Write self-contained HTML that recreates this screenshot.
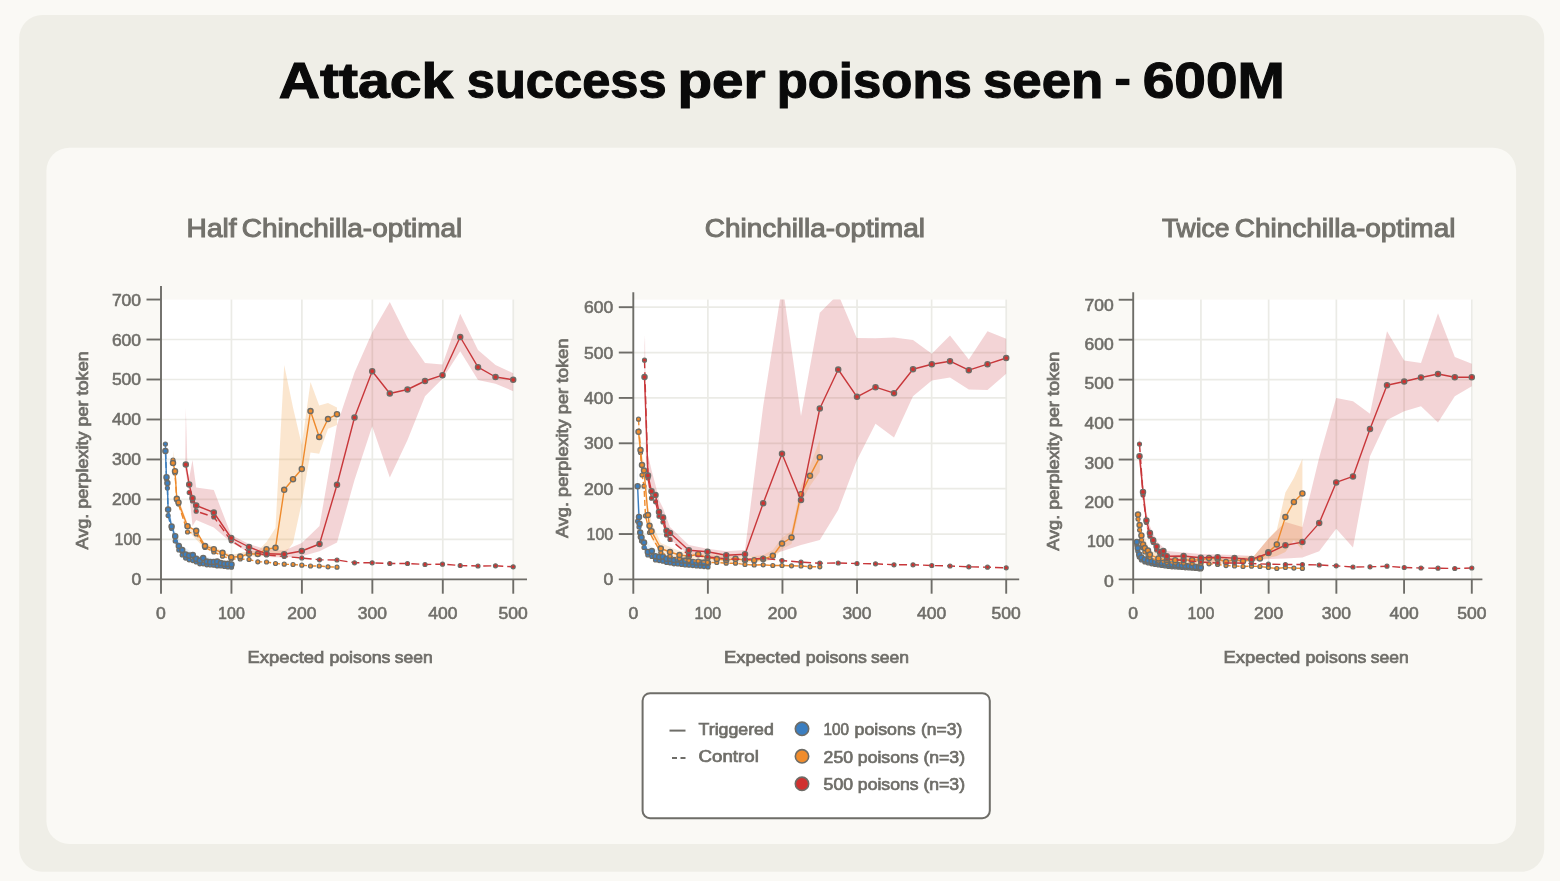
<!DOCTYPE html>
<html><head><meta charset="utf-8"><title>Attack success per poisons seen - 600M</title>
<style>html,body{margin:0;padding:0;background:#faf9f5;}body{width:1560px;height:881px;overflow:hidden;font-family:"Liberation Sans",sans-serif;}svg{display:block;will-change:transform;font-family:"Liberation Sans",sans-serif;}</style>
</head><body>
<svg width="1560" height="881" viewBox="0 0 1560 881">
<rect width="1560" height="881" fill="#faf9f5"/>
<rect x="19.2" y="15" width="1525" height="856.7" rx="23" ry="23" fill="#efeee7"/>
<rect x="46.4" y="147.8" width="1469.7" height="696.3" rx="23" ry="23" fill="#faf9f5"/>
<text x="278.8" y="97.8" font-size="50.00" text-anchor="start" font-weight="bold" fill="#0a0a0a" textLength="174.4" lengthAdjust="spacingAndGlyphs" stroke="#0a0a0a" stroke-width="1.10">Attack</text>
<text x="466.8" y="97.8" font-size="50.00" text-anchor="start" font-weight="bold" fill="#0a0a0a" textLength="199.8" lengthAdjust="spacingAndGlyphs" stroke="#0a0a0a" stroke-width="1.10">success</text>
<text x="677.5" y="97.8" font-size="50.00" text-anchor="start" font-weight="bold" fill="#0a0a0a" textLength="88.1" lengthAdjust="spacingAndGlyphs" stroke="#0a0a0a" stroke-width="1.10">per</text>
<text x="776.7" y="97.8" font-size="50.00" text-anchor="start" font-weight="bold" fill="#0a0a0a" textLength="195.1" lengthAdjust="spacingAndGlyphs" stroke="#0a0a0a" stroke-width="1.10">poisons</text>
<text x="982.9" y="97.8" font-size="50.00" text-anchor="start" font-weight="bold" fill="#0a0a0a" textLength="120.4" lengthAdjust="spacingAndGlyphs" stroke="#0a0a0a" stroke-width="1.10">seen</text>
<rect x="1115.9" y="78.8" width="13.5" height="6.3" fill="#0a0a0a"/>
<text x="1142.7" y="97.8" font-size="50.00" text-anchor="start" font-weight="bold" fill="#0a0a0a" textLength="142.2" lengthAdjust="spacingAndGlyphs" stroke="#0a0a0a" stroke-width="1.10">600M</text>
<text x="186.6" y="236.8" font-size="25.00" text-anchor="start" font-weight="normal" fill="#73726c" textLength="50.0" lengthAdjust="spacingAndGlyphs" stroke="#73726c" stroke-width="1.00">Half</text>
<text x="241.8" y="236.8" font-size="25.00" text-anchor="start" font-weight="normal" fill="#73726c" textLength="220.4" lengthAdjust="spacingAndGlyphs" stroke="#73726c" stroke-width="1.00">Chinchilla-optimal</text>
<text x="704.8" y="236.8" font-size="25.00" text-anchor="start" font-weight="normal" fill="#73726c" textLength="220.2" lengthAdjust="spacingAndGlyphs" stroke="#73726c" stroke-width="1.00">Chinchilla-optimal</text>
<text x="1161.9" y="236.8" font-size="25.00" text-anchor="start" font-weight="normal" fill="#73726c" textLength="67.6" lengthAdjust="spacingAndGlyphs" stroke="#73726c" stroke-width="1.00">Twice</text>
<text x="1234.8" y="236.8" font-size="25.00" text-anchor="start" font-weight="normal" fill="#73726c" textLength="220.6" lengthAdjust="spacingAndGlyphs" stroke="#73726c" stroke-width="1.00">Chinchilla-optimal</text>
<text x="247.6" y="663.2" font-size="16.00" text-anchor="start" font-weight="normal" fill="#6f6e69" textLength="76.6" lengthAdjust="spacingAndGlyphs" stroke="#6f6e69" stroke-width="0.70">Expected</text>
<text x="329.4" y="663.2" font-size="16.00" text-anchor="start" font-weight="normal" fill="#6f6e69" textLength="61.1" lengthAdjust="spacingAndGlyphs" stroke="#6f6e69" stroke-width="0.70">poisons</text>
<text x="394.7" y="663.2" font-size="16.00" text-anchor="start" font-weight="normal" fill="#6f6e69" textLength="38.0" lengthAdjust="spacingAndGlyphs" stroke="#6f6e69" stroke-width="0.70">seen</text>
<text x="724.0" y="663.2" font-size="16.00" text-anchor="start" font-weight="normal" fill="#6f6e69" textLength="76.6" lengthAdjust="spacingAndGlyphs" stroke="#6f6e69" stroke-width="0.70">Expected</text>
<text x="805.8" y="663.2" font-size="16.00" text-anchor="start" font-weight="normal" fill="#6f6e69" textLength="61.1" lengthAdjust="spacingAndGlyphs" stroke="#6f6e69" stroke-width="0.70">poisons</text>
<text x="871.1" y="663.2" font-size="16.00" text-anchor="start" font-weight="normal" fill="#6f6e69" textLength="38.0" lengthAdjust="spacingAndGlyphs" stroke="#6f6e69" stroke-width="0.70">seen</text>
<text x="1223.6" y="663.2" font-size="16.00" text-anchor="start" font-weight="normal" fill="#6f6e69" textLength="76.6" lengthAdjust="spacingAndGlyphs" stroke="#6f6e69" stroke-width="0.70">Expected</text>
<text x="1305.4" y="663.2" font-size="16.00" text-anchor="start" font-weight="normal" fill="#6f6e69" textLength="61.1" lengthAdjust="spacingAndGlyphs" stroke="#6f6e69" stroke-width="0.70">poisons</text>
<text x="1370.7" y="663.2" font-size="16.00" text-anchor="start" font-weight="normal" fill="#6f6e69" textLength="38.0" lengthAdjust="spacingAndGlyphs" stroke="#6f6e69" stroke-width="0.70">seen</text>
<text x="88.3" y="549.5" font-size="15.60" text-anchor="start" font-weight="normal" fill="#6f6e69" textLength="198.2" lengthAdjust="spacingAndGlyphs" stroke="#6f6e69" stroke-width="0.70" transform="rotate(-90 88.3 549.5)">Avg. perplexity per token</text>
<text x="568.2" y="538.0" font-size="15.60" text-anchor="start" font-weight="normal" fill="#6f6e69" textLength="199.5" lengthAdjust="spacingAndGlyphs" stroke="#6f6e69" stroke-width="0.70" transform="rotate(-90 568.2 538.0)">Avg. perplexity per token</text>
<text x="1059.0" y="550.7" font-size="15.60" text-anchor="start" font-weight="normal" fill="#6f6e69" textLength="198.9" lengthAdjust="spacingAndGlyphs" stroke="#6f6e69" stroke-width="0.70" transform="rotate(-90 1059.0 550.7)">Avg. perplexity per token</text>
<rect x="161.0" y="299.6" width="352.9" height="279.8" fill="#ffffff"/>
<g stroke="#ebebe6" stroke-width="1.7">
<line x1="231.45" y1="299.6" x2="231.45" y2="579.4"/>
<line x1="301.90" y1="299.6" x2="301.90" y2="579.4"/>
<line x1="372.35" y1="299.6" x2="372.35" y2="579.4"/>
<line x1="442.80" y1="299.6" x2="442.80" y2="579.4"/>
<line x1="513.25" y1="299.6" x2="513.25" y2="579.4"/>
<line x1="161.0" y1="539.42" x2="513.9" y2="539.42"/>
<line x1="161.0" y1="499.44" x2="513.9" y2="499.44"/>
<line x1="161.0" y1="459.46" x2="513.9" y2="459.46"/>
<line x1="161.0" y1="419.48" x2="513.9" y2="419.48"/>
<line x1="161.0" y1="379.50" x2="513.9" y2="379.50"/>
<line x1="161.0" y1="339.52" x2="513.9" y2="339.52"/>
</g>
<clipPath id="cp1"><rect x="161" y="299.6" width="353" height="279.8"/></clipPath>
<g clip-path="url(#cp1)">
<polygon points="185.2,470.0 185.8,407.5 187.5,470.0 189.2,478.0 192.5,460.0 196.2,487.5 213.8,490.0 231.2,535.0 249.0,544.0 266.5,549.5 284.2,550.5 301.8,543.0 319.5,526.0 337.0,425.0 354.5,372.5 372.2,332.5 389.8,302.0 407.5,337.5 425.0,363.0 442.5,364.5 460.2,313.8 478.0,350.0 495.5,365.0 513.2,373.2 513.2,391.2 495.5,383.8 478.0,380.0 460.2,351.2 442.5,378.8 425.0,396.2 407.5,440.0 389.8,477.5 372.2,426.2 354.5,480.0 337.0,542.5 319.5,551.2 301.8,556.2 284.2,557.5 266.5,557.0 249.0,552.5 231.2,542.5 213.8,527.5 196.2,520.0 192.5,526.0 189.2,494.0 185.8,472.0 185.2,470.0" fill="#c8323c" fill-opacity="0.21"/>
<polygon points="173.0,462.0 173.8,451.0 175.0,470.0 176.8,494.0 187.5,523.0 205.0,543.0 231.2,555.0 249.0,551.0 257.8,551.0 266.5,542.0 275.5,528.0 284.2,365.0 293.0,407.5 301.8,445.0 310.5,382.0 319.2,405.5 328.0,403.0 337.0,407.5 337.0,425.0 328.0,428.8 319.2,453.8 310.5,452.5 301.8,502.5 293.0,543.0 284.2,555.0 275.5,556.0 266.5,555.5 257.8,557.0 249.0,556.0 231.2,559.0 205.0,549.0 187.5,530.0 176.8,503.0 175.0,474.0 173.8,466.0 173.0,465.0" fill="#ef9538" fill-opacity="0.24"/>
<polygon points="165.4,440.0 166.5,470.0 168.1,503.0 171.6,520.0 175.2,531.0 182.2,546.0 196.2,555.0 231.5,562.0 231.5,567.0 196.2,562.0 182.2,554.0 175.2,541.0 171.6,532.0 168.1,516.0 166.5,485.0 165.4,455.0" fill="#5b9bd5" fill-opacity="0.15"/>
</g>
<polyline points="165.4,444.0 166.5,479.0 167.4,488.1 168.1,515.6 171.6,528.5 175.2,541.0 178.8,550.0 182.2,555.0 185.6,558.1 189.1,559.8 192.8,560.6 196.2,561.9 199.8,563.8 203.2,563.8 206.8,564.8 210.2,565.0 213.8,565.2 217.2,565.9 220.8,566.0 224.4,566.5 227.9,566.9 231.5,567.2" fill="none" stroke="#3c7dbd" stroke-width="1.40" stroke-dasharray="6 3" stroke-linejoin="round"/>
<g fill="#3b7ec0" stroke="#6d6c67" stroke-width="1.20">
<circle cx="165.4" cy="444.0" r="2.00"/>
<circle cx="166.5" cy="479.0" r="2.00"/>
<circle cx="167.4" cy="488.1" r="2.00"/>
<circle cx="168.1" cy="515.6" r="2.00"/>
<circle cx="171.6" cy="528.5" r="2.00"/>
<circle cx="175.2" cy="541.0" r="2.00"/>
<circle cx="178.8" cy="550.0" r="2.00"/>
<circle cx="182.2" cy="555.0" r="2.00"/>
<circle cx="185.6" cy="558.1" r="2.00"/>
<circle cx="189.1" cy="559.8" r="2.00"/>
<circle cx="192.8" cy="560.6" r="2.00"/>
<circle cx="196.2" cy="561.9" r="2.00"/>
<circle cx="199.8" cy="563.8" r="2.00"/>
<circle cx="203.2" cy="563.8" r="2.00"/>
<circle cx="206.8" cy="564.8" r="2.00"/>
<circle cx="210.2" cy="565.0" r="2.00"/>
<circle cx="213.8" cy="565.2" r="2.00"/>
<circle cx="217.2" cy="565.9" r="2.00"/>
<circle cx="220.8" cy="566.0" r="2.00"/>
<circle cx="224.4" cy="566.5" r="2.00"/>
<circle cx="227.9" cy="566.9" r="2.00"/>
<circle cx="231.5" cy="567.2" r="2.00"/>
</g>
<polyline points="165.4,451.0 166.5,477.2 167.4,483.1 168.1,509.6 171.6,526.5 175.2,536.2 178.8,546.0 182.2,550.0 185.6,554.4 189.1,555.6 192.8,555.0 196.2,558.8 199.8,560.6 203.2,558.1 206.8,561.5 210.2,561.9 213.8,561.9 217.2,561.5 220.8,563.1 224.4,563.8 227.9,563.8 231.5,564.4" fill="none" stroke="#3c7dbd" stroke-width="1.40" stroke-linejoin="round"/>
<g fill="#3b7ec0" stroke="#6d6c67" stroke-width="1.40">
<circle cx="165.4" cy="451.0" r="2.55"/>
<circle cx="166.5" cy="477.2" r="2.55"/>
<circle cx="167.4" cy="483.1" r="2.55"/>
<circle cx="168.1" cy="509.6" r="2.55"/>
<circle cx="171.6" cy="526.5" r="2.55"/>
<circle cx="175.2" cy="536.2" r="2.55"/>
<circle cx="178.8" cy="546.0" r="2.55"/>
<circle cx="182.2" cy="550.0" r="2.55"/>
<circle cx="185.6" cy="554.4" r="2.55"/>
<circle cx="189.1" cy="555.6" r="2.55"/>
<circle cx="192.8" cy="555.0" r="2.55"/>
<circle cx="196.2" cy="558.8" r="2.55"/>
<circle cx="199.8" cy="560.6" r="2.55"/>
<circle cx="203.2" cy="558.1" r="2.55"/>
<circle cx="206.8" cy="561.5" r="2.55"/>
<circle cx="210.2" cy="561.9" r="2.55"/>
<circle cx="213.8" cy="561.9" r="2.55"/>
<circle cx="217.2" cy="561.5" r="2.55"/>
<circle cx="220.8" cy="563.1" r="2.55"/>
<circle cx="224.4" cy="563.8" r="2.55"/>
<circle cx="227.9" cy="563.8" r="2.55"/>
<circle cx="231.5" cy="564.4" r="2.55"/>
</g>
<polyline points="173.0,460.0 175.0,473.0 176.8,500.0 178.5,504.0 187.5,532.0 196.2,534.0 205.0,547.5 213.8,552.0 222.5,556.2 231.2,559.0 240.2,559.0 249.0,559.5 257.8,561.8 266.5,562.0 275.5,563.5 284.2,564.2 293.0,564.5 301.8,565.2 310.5,566.0 319.2,566.0 328.0,566.8 337.0,567.2" fill="none" stroke="#ee8a2c" stroke-width="1.40" stroke-dasharray="6 3" stroke-linejoin="round"/>
<g fill="#f08c2c" stroke="#6d6c67" stroke-width="1.20">
<circle cx="173.0" cy="460.0" r="2.00"/>
<circle cx="175.0" cy="473.0" r="2.00"/>
<circle cx="176.8" cy="500.0" r="2.00"/>
<circle cx="178.5" cy="504.0" r="2.00"/>
<circle cx="187.5" cy="532.0" r="2.00"/>
<circle cx="196.2" cy="534.0" r="2.00"/>
<circle cx="205.0" cy="547.5" r="2.00"/>
<circle cx="213.8" cy="552.0" r="2.00"/>
<circle cx="222.5" cy="556.2" r="2.00"/>
<circle cx="231.2" cy="559.0" r="2.00"/>
<circle cx="240.2" cy="559.0" r="2.00"/>
<circle cx="249.0" cy="559.5" r="2.00"/>
<circle cx="257.8" cy="561.8" r="2.00"/>
<circle cx="266.5" cy="562.0" r="2.00"/>
<circle cx="275.5" cy="563.5" r="2.00"/>
<circle cx="284.2" cy="564.2" r="2.00"/>
<circle cx="293.0" cy="564.5" r="2.00"/>
<circle cx="301.8" cy="565.2" r="2.00"/>
<circle cx="310.5" cy="566.0" r="2.00"/>
<circle cx="319.2" cy="566.0" r="2.00"/>
<circle cx="328.0" cy="566.8" r="2.00"/>
<circle cx="337.0" cy="567.2" r="2.00"/>
</g>
<polyline points="173.0,463.0 175.0,471.2 176.8,498.8 178.5,502.5 187.5,526.2 196.2,530.8 205.0,546.0 213.8,549.2 222.5,552.8 231.2,557.2 240.2,556.5 249.0,553.8 257.8,554.0 266.5,549.2 275.5,547.8 284.2,489.8 293.0,479.2 301.8,469.0 310.5,411.0 319.2,437.0 328.0,419.0 337.0,414.2" fill="none" stroke="#ee8a2c" stroke-width="1.40" stroke-linejoin="round"/>
<g fill="#f08c2c" stroke="#6d6c67" stroke-width="1.40">
<circle cx="173.0" cy="463.0" r="2.55"/>
<circle cx="175.0" cy="471.2" r="2.55"/>
<circle cx="176.8" cy="498.8" r="2.55"/>
<circle cx="178.5" cy="502.5" r="2.55"/>
<circle cx="187.5" cy="526.2" r="2.55"/>
<circle cx="196.2" cy="530.8" r="2.55"/>
<circle cx="205.0" cy="546.0" r="2.55"/>
<circle cx="213.8" cy="549.2" r="2.55"/>
<circle cx="222.5" cy="552.8" r="2.55"/>
<circle cx="231.2" cy="557.2" r="2.55"/>
<circle cx="240.2" cy="556.5" r="2.55"/>
<circle cx="249.0" cy="553.8" r="2.55"/>
<circle cx="257.8" cy="554.0" r="2.55"/>
<circle cx="266.5" cy="549.2" r="2.55"/>
<circle cx="275.5" cy="547.8" r="2.55"/>
<circle cx="284.2" cy="489.8" r="2.55"/>
<circle cx="293.0" cy="479.2" r="2.55"/>
<circle cx="301.8" cy="469.0" r="2.55"/>
<circle cx="310.5" cy="411.0" r="2.55"/>
<circle cx="319.2" cy="437.0" r="2.55"/>
<circle cx="328.0" cy="419.0" r="2.55"/>
<circle cx="337.0" cy="414.2" r="2.55"/>
</g>
<polyline points="189.2,492.5 192.5,501.0 196.2,511.2 213.8,517.0 231.2,540.8 249.0,551.8 266.5,555.0 284.2,556.5 301.8,558.0 319.5,559.8 337.0,560.0 354.5,562.8 372.2,562.8 389.8,563.5 407.5,563.5 425.0,564.5 442.5,564.2 460.2,565.5 478.0,566.0 495.5,565.8 513.2,566.8" fill="none" stroke="#c8373a" stroke-width="1.40" stroke-dasharray="8 4" stroke-linejoin="round"/>
<g fill="#d0312f" stroke="#6d6c67" stroke-width="1.20">
<circle cx="189.2" cy="492.5" r="2.00"/>
<circle cx="192.5" cy="501.0" r="2.00"/>
<circle cx="196.2" cy="511.2" r="2.00"/>
<circle cx="213.8" cy="517.0" r="2.00"/>
<circle cx="231.2" cy="540.8" r="2.00"/>
<circle cx="249.0" cy="551.8" r="2.00"/>
<circle cx="266.5" cy="555.0" r="2.00"/>
<circle cx="284.2" cy="556.5" r="2.00"/>
<circle cx="301.8" cy="558.0" r="2.00"/>
<circle cx="319.5" cy="559.8" r="2.00"/>
<circle cx="337.0" cy="560.0" r="2.00"/>
<circle cx="354.5" cy="562.8" r="2.00"/>
<circle cx="372.2" cy="562.8" r="2.00"/>
<circle cx="389.8" cy="563.5" r="2.00"/>
<circle cx="407.5" cy="563.5" r="2.00"/>
<circle cx="425.0" cy="564.5" r="2.00"/>
<circle cx="442.5" cy="564.2" r="2.00"/>
<circle cx="460.2" cy="565.5" r="2.00"/>
<circle cx="478.0" cy="566.0" r="2.00"/>
<circle cx="495.5" cy="565.8" r="2.00"/>
<circle cx="513.2" cy="566.8" r="2.00"/>
</g>
<polyline points="185.8,464.5 189.2,484.5 192.5,498.2 196.2,505.5 213.8,512.5 231.2,538.0 249.0,547.0 266.5,553.8 284.2,554.2 301.8,551.0 319.5,544.0 337.0,484.8 354.5,417.5 372.2,371.2 389.8,393.5 407.5,389.5 425.0,381.0 442.5,375.2 460.2,337.0 478.0,367.2 495.5,377.0 513.2,379.8" fill="none" stroke="#c8373a" stroke-width="1.40" stroke-linejoin="round"/>
<g fill="#d0312f" stroke="#6d6c67" stroke-width="1.40">
<circle cx="185.8" cy="464.5" r="2.55"/>
<circle cx="189.2" cy="484.5" r="2.55"/>
<circle cx="192.5" cy="498.2" r="2.55"/>
<circle cx="196.2" cy="505.5" r="2.55"/>
<circle cx="213.8" cy="512.5" r="2.55"/>
<circle cx="231.2" cy="538.0" r="2.55"/>
<circle cx="249.0" cy="547.0" r="2.55"/>
<circle cx="266.5" cy="553.8" r="2.55"/>
<circle cx="284.2" cy="554.2" r="2.55"/>
<circle cx="301.8" cy="551.0" r="2.55"/>
<circle cx="319.5" cy="544.0" r="2.55"/>
<circle cx="337.0" cy="484.8" r="2.55"/>
<circle cx="354.5" cy="417.5" r="2.55"/>
<circle cx="372.2" cy="371.2" r="2.55"/>
<circle cx="389.8" cy="393.5" r="2.55"/>
<circle cx="407.5" cy="389.5" r="2.55"/>
<circle cx="425.0" cy="381.0" r="2.55"/>
<circle cx="442.5" cy="375.2" r="2.55"/>
<circle cx="460.2" cy="337.0" r="2.55"/>
<circle cx="478.0" cy="367.2" r="2.55"/>
<circle cx="495.5" cy="377.0" r="2.55"/>
<circle cx="513.2" cy="379.8" r="2.55"/>
</g>
<g stroke="#6e6d68" stroke-width="1.9" stroke-linecap="butt">
<line x1="161.00" y1="286.0" x2="161.00" y2="593.7"/>
<line x1="146.5" y1="579.40" x2="527.0" y2="579.40"/>
<line x1="231.45" y1="579.4" x2="231.45" y2="593.7"/>
<line x1="301.90" y1="579.4" x2="301.90" y2="593.7"/>
<line x1="372.35" y1="579.4" x2="372.35" y2="593.7"/>
<line x1="442.80" y1="579.4" x2="442.80" y2="593.7"/>
<line x1="513.25" y1="579.4" x2="513.25" y2="593.7"/>
<line x1="146.5" y1="539.42" x2="161.0" y2="539.42"/>
<line x1="146.5" y1="499.44" x2="161.0" y2="499.44"/>
<line x1="146.5" y1="459.46" x2="161.0" y2="459.46"/>
<line x1="146.5" y1="419.48" x2="161.0" y2="419.48"/>
<line x1="146.5" y1="379.50" x2="161.0" y2="379.50"/>
<line x1="146.5" y1="339.52" x2="161.0" y2="339.52"/>
<line x1="146.5" y1="299.54" x2="161.0" y2="299.54"/>
</g>
<text x="156.1" y="619.4" font-size="15.70" text-anchor="start" font-weight="normal" fill="#6f6e69" textLength="9.8" lengthAdjust="spacingAndGlyphs" stroke="#6f6e69" stroke-width="0.55">0</text>
<text x="218.1" y="619.4" font-size="15.70" text-anchor="start" font-weight="normal" fill="#6f6e69" textLength="26.7" lengthAdjust="spacingAndGlyphs" stroke="#6f6e69" stroke-width="0.55">100</text>
<text x="287.3" y="619.4" font-size="15.70" text-anchor="start" font-weight="normal" fill="#6f6e69" textLength="29.2" lengthAdjust="spacingAndGlyphs" stroke="#6f6e69" stroke-width="0.55">200</text>
<text x="357.7" y="619.4" font-size="15.70" text-anchor="start" font-weight="normal" fill="#6f6e69" textLength="29.2" lengthAdjust="spacingAndGlyphs" stroke="#6f6e69" stroke-width="0.55">300</text>
<text x="428.2" y="619.4" font-size="15.70" text-anchor="start" font-weight="normal" fill="#6f6e69" textLength="29.2" lengthAdjust="spacingAndGlyphs" stroke="#6f6e69" stroke-width="0.55">400</text>
<text x="498.6" y="619.4" font-size="15.70" text-anchor="start" font-weight="normal" fill="#6f6e69" textLength="29.2" lengthAdjust="spacingAndGlyphs" stroke="#6f6e69" stroke-width="0.55">500</text>
<text x="131.4" y="585.4" font-size="15.70" text-anchor="start" font-weight="normal" fill="#6f6e69" textLength="9.8" lengthAdjust="spacingAndGlyphs" stroke="#6f6e69" stroke-width="0.55">0</text>
<text x="114.5" y="545.4" font-size="15.70" text-anchor="start" font-weight="normal" fill="#6f6e69" textLength="26.7" lengthAdjust="spacingAndGlyphs" stroke="#6f6e69" stroke-width="0.55">100</text>
<text x="111.9" y="505.4" font-size="15.70" text-anchor="start" font-weight="normal" fill="#6f6e69" textLength="29.2" lengthAdjust="spacingAndGlyphs" stroke="#6f6e69" stroke-width="0.55">200</text>
<text x="111.9" y="465.4" font-size="15.70" text-anchor="start" font-weight="normal" fill="#6f6e69" textLength="29.2" lengthAdjust="spacingAndGlyphs" stroke="#6f6e69" stroke-width="0.55">300</text>
<text x="111.9" y="425.4" font-size="15.70" text-anchor="start" font-weight="normal" fill="#6f6e69" textLength="29.2" lengthAdjust="spacingAndGlyphs" stroke="#6f6e69" stroke-width="0.55">400</text>
<text x="111.9" y="385.4" font-size="15.70" text-anchor="start" font-weight="normal" fill="#6f6e69" textLength="29.2" lengthAdjust="spacingAndGlyphs" stroke="#6f6e69" stroke-width="0.55">500</text>
<text x="111.9" y="345.5" font-size="15.70" text-anchor="start" font-weight="normal" fill="#6f6e69" textLength="29.2" lengthAdjust="spacingAndGlyphs" stroke="#6f6e69" stroke-width="0.55">600</text>
<text x="111.9" y="305.5" font-size="15.70" text-anchor="start" font-weight="normal" fill="#6f6e69" textLength="29.2" lengthAdjust="spacingAndGlyphs" stroke="#6f6e69" stroke-width="0.55">700</text>
<rect x="633.3" y="299.6" width="373.6" height="279.8" fill="#ffffff"/>
<g stroke="#ebebe6" stroke-width="1.7">
<line x1="707.88" y1="299.6" x2="707.88" y2="579.4"/>
<line x1="782.46" y1="299.6" x2="782.46" y2="579.4"/>
<line x1="857.04" y1="299.6" x2="857.04" y2="579.4"/>
<line x1="931.62" y1="299.6" x2="931.62" y2="579.4"/>
<line x1="1006.20" y1="299.6" x2="1006.20" y2="579.4"/>
<line x1="633.3" y1="534.03" x2="1006.9" y2="534.03"/>
<line x1="633.3" y1="488.66" x2="1006.9" y2="488.66"/>
<line x1="633.3" y1="443.29" x2="1006.9" y2="443.29"/>
<line x1="633.3" y1="397.92" x2="1006.9" y2="397.92"/>
<line x1="633.3" y1="352.55" x2="1006.9" y2="352.55"/>
<line x1="633.3" y1="307.18" x2="1006.9" y2="307.18"/>
</g>
<clipPath id="cp2"><rect x="633.3" y="299.6" width="373.6" height="279.8"/></clipPath>
<g clip-path="url(#cp2)">
<polygon points="644.5,345.0 645.0,335.0 646.0,440.0 648.0,455.0 651.5,470.0 655.5,485.0 659.0,500.0 663.0,508.0 670.0,527.0 688.8,545.0 707.5,548.8 726.2,551.2 745.0,550.0 763.2,406.0 782.4,284.0 801.0,416.0 819.8,312.7 838.2,294.3 856.7,338.1 875.5,338.2 894.0,337.5 913.0,340.0 931.8,353.8 950.0,335.5 968.8,359.5 987.5,331.2 1006.2,338.8 1006.2,373.8 987.5,390.0 968.8,389.5 950.0,377.5 931.8,380.5 913.0,396.2 894.0,437.5 875.5,423.8 857.0,460.0 838.2,510.0 819.8,540.0 801.0,545.0 782.0,551.2 763.2,557.5 745.0,556.2 726.2,558.5 707.5,557.0 688.8,555.0 670.0,539.0 663.0,524.0 659.0,517.0 655.5,503.0 651.5,497.0 648.0,486.0 646.0,470.0 645.0,390.0 644.5,385.0" fill="#c8323c" fill-opacity="0.21"/>
<polygon points="638.5,420.0 640.5,440.0 642.0,455.0 644.0,462.0 648.0,505.0 651.5,522.0 660.8,543.0 679.5,551.0 707.5,554.0 745.0,557.0 763.2,555.0 772.8,550.0 782.0,538.0 791.5,531.0 801.0,486.0 810.0,466.0 819.8,440.0 819.8,472.0 810.0,486.0 801.0,503.0 791.5,544.0 782.0,549.0 772.8,560.0 763.2,562.0 745.0,563.0 707.5,561.0 679.5,558.0 660.8,553.0 651.5,539.0 648.0,524.0 644.0,480.0 642.0,474.0 640.5,460.0 638.5,442.0" fill="#ef9538" fill-opacity="0.20"/>
<polygon points="637.0,455.0 638.5,505.0 640.5,525.0 644.0,538.0 651.5,547.0 674.0,559.0 708.0,562.0 708.0,568.0 674.0,565.0 651.5,557.0 644.0,549.0 640.5,540.0 638.5,528.0 637.0,525.0" fill="#5b9bd5" fill-opacity="0.12"/>
</g>
<polyline points="637.6,521.2 639.0,527.0 640.2,536.9 641.5,541.0 644.0,547.5 647.8,555.0 651.8,556.5 655.5,560.0 659.2,560.6 662.8,561.2 666.5,562.5 670.2,562.9 674.0,563.8 677.8,564.0 681.5,564.4 685.2,565.0 689.0,565.2 692.8,565.6 696.5,566.0 700.2,566.2 704.0,566.6 708.0,566.9" fill="none" stroke="#3c7dbd" stroke-width="1.40" stroke-dasharray="6 3" stroke-linejoin="round"/>
<g fill="#3b7ec0" stroke="#6d6c67" stroke-width="1.20">
<circle cx="637.6" cy="521.2" r="2.00"/>
<circle cx="639.0" cy="527.0" r="2.00"/>
<circle cx="640.2" cy="536.9" r="2.00"/>
<circle cx="641.5" cy="541.0" r="2.00"/>
<circle cx="644.0" cy="547.5" r="2.00"/>
<circle cx="647.8" cy="555.0" r="2.00"/>
<circle cx="651.8" cy="556.5" r="2.00"/>
<circle cx="655.5" cy="560.0" r="2.00"/>
<circle cx="659.2" cy="560.6" r="2.00"/>
<circle cx="662.8" cy="561.2" r="2.00"/>
<circle cx="666.5" cy="562.5" r="2.00"/>
<circle cx="670.2" cy="562.9" r="2.00"/>
<circle cx="674.0" cy="563.8" r="2.00"/>
<circle cx="677.8" cy="564.0" r="2.00"/>
<circle cx="681.5" cy="564.4" r="2.00"/>
<circle cx="685.2" cy="565.0" r="2.00"/>
<circle cx="689.0" cy="565.2" r="2.00"/>
<circle cx="692.8" cy="565.6" r="2.00"/>
<circle cx="696.5" cy="566.0" r="2.00"/>
<circle cx="700.2" cy="566.2" r="2.00"/>
<circle cx="704.0" cy="566.6" r="2.00"/>
<circle cx="708.0" cy="566.9" r="2.00"/>
</g>
<polyline points="637.6,486.2 639.0,516.9 639.6,523.8 640.2,532.5 641.5,537.5 644.0,542.5 647.8,551.9 651.8,551.0 655.5,556.2 659.2,556.9 662.8,556.6 666.5,558.8 670.2,558.8 674.0,560.0 677.8,559.4 681.5,560.6 685.2,560.6 689.0,561.2 692.8,561.9 696.5,562.5 700.2,562.5 704.0,562.5 708.0,563.1" fill="none" stroke="#3c7dbd" stroke-width="1.40" stroke-linejoin="round"/>
<g fill="#3b7ec0" stroke="#6d6c67" stroke-width="1.40">
<circle cx="637.6" cy="486.2" r="2.55"/>
<circle cx="639.0" cy="516.9" r="2.55"/>
<circle cx="639.6" cy="523.8" r="2.55"/>
<circle cx="640.2" cy="532.5" r="2.55"/>
<circle cx="641.5" cy="537.5" r="2.55"/>
<circle cx="644.0" cy="542.5" r="2.55"/>
<circle cx="647.8" cy="551.9" r="2.55"/>
<circle cx="651.8" cy="551.0" r="2.55"/>
<circle cx="655.5" cy="556.2" r="2.55"/>
<circle cx="659.2" cy="556.9" r="2.55"/>
<circle cx="662.8" cy="556.6" r="2.55"/>
<circle cx="666.5" cy="558.8" r="2.55"/>
<circle cx="670.2" cy="558.8" r="2.55"/>
<circle cx="674.0" cy="560.0" r="2.55"/>
<circle cx="677.8" cy="559.4" r="2.55"/>
<circle cx="681.5" cy="560.6" r="2.55"/>
<circle cx="685.2" cy="560.6" r="2.55"/>
<circle cx="689.0" cy="561.2" r="2.55"/>
<circle cx="692.8" cy="561.9" r="2.55"/>
<circle cx="696.5" cy="562.5" r="2.55"/>
<circle cx="700.2" cy="562.5" r="2.55"/>
<circle cx="704.0" cy="562.5" r="2.55"/>
<circle cx="708.0" cy="563.1" r="2.55"/>
</g>
<polyline points="638.5,419.2 640.5,452.5 642.0,475.0 644.0,486.2 645.5,515.8 649.5,532.5 660.8,552.5 670.0,556.2 679.5,558.8 688.8,560.5 698.2,561.2 707.5,562.5 716.8,562.5 726.2,563.2 735.5,563.2 745.0,564.5 754.2,565.0 763.2,564.8 772.8,565.5 782.0,565.5 791.5,565.8 801.0,566.0 810.0,566.8 819.8,566.8" fill="none" stroke="#ee8a2c" stroke-width="1.40" stroke-dasharray="6 3" stroke-linejoin="round"/>
<g fill="#f08c2c" stroke="#6d6c67" stroke-width="1.20">
<circle cx="638.5" cy="419.2" r="2.00"/>
<circle cx="640.5" cy="452.5" r="2.00"/>
<circle cx="642.0" cy="475.0" r="2.00"/>
<circle cx="644.0" cy="486.2" r="2.00"/>
<circle cx="645.5" cy="515.8" r="2.00"/>
<circle cx="649.5" cy="532.5" r="2.00"/>
<circle cx="660.8" cy="552.5" r="2.00"/>
<circle cx="670.0" cy="556.2" r="2.00"/>
<circle cx="679.5" cy="558.8" r="2.00"/>
<circle cx="688.8" cy="560.5" r="2.00"/>
<circle cx="698.2" cy="561.2" r="2.00"/>
<circle cx="707.5" cy="562.5" r="2.00"/>
<circle cx="716.8" cy="562.5" r="2.00"/>
<circle cx="726.2" cy="563.2" r="2.00"/>
<circle cx="735.5" cy="563.2" r="2.00"/>
<circle cx="745.0" cy="564.5" r="2.00"/>
<circle cx="754.2" cy="565.0" r="2.00"/>
<circle cx="763.2" cy="564.8" r="2.00"/>
<circle cx="772.8" cy="565.5" r="2.00"/>
<circle cx="782.0" cy="565.5" r="2.00"/>
<circle cx="791.5" cy="565.8" r="2.00"/>
<circle cx="801.0" cy="566.0" r="2.00"/>
<circle cx="810.0" cy="566.8" r="2.00"/>
<circle cx="819.8" cy="566.8" r="2.00"/>
</g>
<polyline points="638.5,431.8 640.5,450.0 642.0,465.0 644.0,470.5 648.0,515.0 649.5,525.8 651.5,531.2 660.8,548.5 670.0,552.0 679.5,555.0 688.8,556.2 698.2,554.2 707.5,557.8 716.8,559.0 726.2,560.0 735.5,558.8 745.0,560.0 754.2,560.2 763.2,559.0 772.8,555.8 782.0,543.5 791.5,537.5 801.0,494.2 810.0,475.8 819.8,457.2" fill="none" stroke="#ee8a2c" stroke-width="1.40" stroke-linejoin="round"/>
<g fill="#f08c2c" stroke="#6d6c67" stroke-width="1.40">
<circle cx="638.5" cy="431.8" r="2.55"/>
<circle cx="640.5" cy="450.0" r="2.55"/>
<circle cx="642.0" cy="465.0" r="2.55"/>
<circle cx="644.0" cy="470.5" r="2.55"/>
<circle cx="648.0" cy="515.0" r="2.55"/>
<circle cx="649.5" cy="525.8" r="2.55"/>
<circle cx="651.5" cy="531.2" r="2.55"/>
<circle cx="660.8" cy="548.5" r="2.55"/>
<circle cx="670.0" cy="552.0" r="2.55"/>
<circle cx="679.5" cy="555.0" r="2.55"/>
<circle cx="688.8" cy="556.2" r="2.55"/>
<circle cx="698.2" cy="554.2" r="2.55"/>
<circle cx="707.5" cy="557.8" r="2.55"/>
<circle cx="716.8" cy="559.0" r="2.55"/>
<circle cx="726.2" cy="560.0" r="2.55"/>
<circle cx="735.5" cy="558.8" r="2.55"/>
<circle cx="745.0" cy="560.0" r="2.55"/>
<circle cx="754.2" cy="560.2" r="2.55"/>
<circle cx="763.2" cy="559.0" r="2.55"/>
<circle cx="772.8" cy="555.8" r="2.55"/>
<circle cx="782.0" cy="543.5" r="2.55"/>
<circle cx="791.5" cy="537.5" r="2.55"/>
<circle cx="801.0" cy="494.2" r="2.55"/>
<circle cx="810.0" cy="475.8" r="2.55"/>
<circle cx="819.8" cy="457.2" r="2.55"/>
</g>
<polyline points="644.5,360.2 648.0,478.0 651.5,498.2 655.5,501.8 659.0,516.2 663.0,522.0 666.5,535.0 670.0,539.5 688.8,555.2 707.5,557.0 726.2,558.8 745.0,559.5 763.2,558.2 782.0,560.5 801.0,562.2 819.8,563.2 838.2,563.0 857.0,563.5 875.5,563.8 894.0,564.8 913.0,564.8 931.8,565.5 950.0,566.0 968.8,566.8 987.5,567.2 1006.2,567.8" fill="none" stroke="#c8373a" stroke-width="1.40" stroke-dasharray="8 4" stroke-linejoin="round"/>
<g fill="#d0312f" stroke="#6d6c67" stroke-width="1.20">
<circle cx="644.5" cy="360.2" r="2.00"/>
<circle cx="648.0" cy="478.0" r="2.00"/>
<circle cx="651.5" cy="498.2" r="2.00"/>
<circle cx="655.5" cy="501.8" r="2.00"/>
<circle cx="659.0" cy="516.2" r="2.00"/>
<circle cx="663.0" cy="522.0" r="2.00"/>
<circle cx="666.5" cy="535.0" r="2.00"/>
<circle cx="670.0" cy="539.5" r="2.00"/>
<circle cx="688.8" cy="555.2" r="2.00"/>
<circle cx="707.5" cy="557.0" r="2.00"/>
<circle cx="726.2" cy="558.8" r="2.00"/>
<circle cx="745.0" cy="559.5" r="2.00"/>
<circle cx="763.2" cy="558.2" r="2.00"/>
<circle cx="782.0" cy="560.5" r="2.00"/>
<circle cx="801.0" cy="562.2" r="2.00"/>
<circle cx="819.8" cy="563.2" r="2.00"/>
<circle cx="838.2" cy="563.0" r="2.00"/>
<circle cx="857.0" cy="563.5" r="2.00"/>
<circle cx="875.5" cy="563.8" r="2.00"/>
<circle cx="894.0" cy="564.8" r="2.00"/>
<circle cx="913.0" cy="564.8" r="2.00"/>
<circle cx="931.8" cy="565.5" r="2.00"/>
<circle cx="950.0" cy="566.0" r="2.00"/>
<circle cx="968.8" cy="566.8" r="2.00"/>
<circle cx="987.5" cy="567.2" r="2.00"/>
<circle cx="1006.2" cy="567.8" r="2.00"/>
</g>
<polyline points="644.5,377.0 648.0,475.5 651.5,491.2 655.5,495.0 659.0,512.0 663.0,517.5 666.5,530.8 670.0,533.0 688.8,550.2 707.5,551.8 726.2,555.2 745.0,554.2 763.2,503.2 782.0,453.8 801.0,500.0 819.8,408.5 838.2,369.5 857.0,396.8 875.5,387.2 894.0,393.2 913.0,369.2 931.8,364.2 950.0,361.2 968.8,370.2 987.5,364.2 1006.2,358.0" fill="none" stroke="#c8373a" stroke-width="1.40" stroke-linejoin="round"/>
<g fill="#d0312f" stroke="#6d6c67" stroke-width="1.40">
<circle cx="644.5" cy="377.0" r="2.55"/>
<circle cx="648.0" cy="475.5" r="2.55"/>
<circle cx="651.5" cy="491.2" r="2.55"/>
<circle cx="655.5" cy="495.0" r="2.55"/>
<circle cx="659.0" cy="512.0" r="2.55"/>
<circle cx="663.0" cy="517.5" r="2.55"/>
<circle cx="666.5" cy="530.8" r="2.55"/>
<circle cx="670.0" cy="533.0" r="2.55"/>
<circle cx="688.8" cy="550.2" r="2.55"/>
<circle cx="707.5" cy="551.8" r="2.55"/>
<circle cx="726.2" cy="555.2" r="2.55"/>
<circle cx="745.0" cy="554.2" r="2.55"/>
<circle cx="763.2" cy="503.2" r="2.55"/>
<circle cx="782.0" cy="453.8" r="2.55"/>
<circle cx="801.0" cy="500.0" r="2.55"/>
<circle cx="819.8" cy="408.5" r="2.55"/>
<circle cx="838.2" cy="369.5" r="2.55"/>
<circle cx="857.0" cy="396.8" r="2.55"/>
<circle cx="875.5" cy="387.2" r="2.55"/>
<circle cx="894.0" cy="393.2" r="2.55"/>
<circle cx="913.0" cy="369.2" r="2.55"/>
<circle cx="931.8" cy="364.2" r="2.55"/>
<circle cx="950.0" cy="361.2" r="2.55"/>
<circle cx="968.8" cy="370.2" r="2.55"/>
<circle cx="987.5" cy="364.2" r="2.55"/>
<circle cx="1006.2" cy="358.0" r="2.55"/>
</g>
<g stroke="#6e6d68" stroke-width="1.9" stroke-linecap="butt">
<line x1="633.30" y1="292.3" x2="633.30" y2="593.7"/>
<line x1="618.8" y1="579.40" x2="1019.2" y2="579.40"/>
<line x1="707.88" y1="579.4" x2="707.88" y2="593.7"/>
<line x1="782.46" y1="579.4" x2="782.46" y2="593.7"/>
<line x1="857.04" y1="579.4" x2="857.04" y2="593.7"/>
<line x1="931.62" y1="579.4" x2="931.62" y2="593.7"/>
<line x1="1006.20" y1="579.4" x2="1006.20" y2="593.7"/>
<line x1="618.8" y1="534.03" x2="633.3" y2="534.03"/>
<line x1="618.8" y1="488.66" x2="633.3" y2="488.66"/>
<line x1="618.8" y1="443.29" x2="633.3" y2="443.29"/>
<line x1="618.8" y1="397.92" x2="633.3" y2="397.92"/>
<line x1="618.8" y1="352.55" x2="633.3" y2="352.55"/>
<line x1="618.8" y1="307.18" x2="633.3" y2="307.18"/>
</g>
<text x="628.4" y="619.4" font-size="15.70" text-anchor="start" font-weight="normal" fill="#6f6e69" textLength="9.8" lengthAdjust="spacingAndGlyphs" stroke="#6f6e69" stroke-width="0.55">0</text>
<text x="694.5" y="619.4" font-size="15.70" text-anchor="start" font-weight="normal" fill="#6f6e69" textLength="26.7" lengthAdjust="spacingAndGlyphs" stroke="#6f6e69" stroke-width="0.55">100</text>
<text x="767.8" y="619.4" font-size="15.70" text-anchor="start" font-weight="normal" fill="#6f6e69" textLength="29.2" lengthAdjust="spacingAndGlyphs" stroke="#6f6e69" stroke-width="0.55">200</text>
<text x="842.4" y="619.4" font-size="15.70" text-anchor="start" font-weight="normal" fill="#6f6e69" textLength="29.2" lengthAdjust="spacingAndGlyphs" stroke="#6f6e69" stroke-width="0.55">300</text>
<text x="917.0" y="619.4" font-size="15.70" text-anchor="start" font-weight="normal" fill="#6f6e69" textLength="29.2" lengthAdjust="spacingAndGlyphs" stroke="#6f6e69" stroke-width="0.55">400</text>
<text x="991.6" y="619.4" font-size="15.70" text-anchor="start" font-weight="normal" fill="#6f6e69" textLength="29.2" lengthAdjust="spacingAndGlyphs" stroke="#6f6e69" stroke-width="0.55">500</text>
<text x="603.5" y="585.4" font-size="15.70" text-anchor="start" font-weight="normal" fill="#6f6e69" textLength="9.8" lengthAdjust="spacingAndGlyphs" stroke="#6f6e69" stroke-width="0.55">0</text>
<text x="586.5" y="540.0" font-size="15.70" text-anchor="start" font-weight="normal" fill="#6f6e69" textLength="26.7" lengthAdjust="spacingAndGlyphs" stroke="#6f6e69" stroke-width="0.55">100</text>
<text x="584.0" y="494.6" font-size="15.70" text-anchor="start" font-weight="normal" fill="#6f6e69" textLength="29.2" lengthAdjust="spacingAndGlyphs" stroke="#6f6e69" stroke-width="0.55">200</text>
<text x="584.0" y="449.2" font-size="15.70" text-anchor="start" font-weight="normal" fill="#6f6e69" textLength="29.2" lengthAdjust="spacingAndGlyphs" stroke="#6f6e69" stroke-width="0.55">300</text>
<text x="584.0" y="403.9" font-size="15.70" text-anchor="start" font-weight="normal" fill="#6f6e69" textLength="29.2" lengthAdjust="spacingAndGlyphs" stroke="#6f6e69" stroke-width="0.55">400</text>
<text x="584.0" y="358.5" font-size="15.70" text-anchor="start" font-weight="normal" fill="#6f6e69" textLength="29.2" lengthAdjust="spacingAndGlyphs" stroke="#6f6e69" stroke-width="0.55">500</text>
<text x="584.0" y="313.1" font-size="15.70" text-anchor="start" font-weight="normal" fill="#6f6e69" textLength="29.2" lengthAdjust="spacingAndGlyphs" stroke="#6f6e69" stroke-width="0.55">600</text>
<rect x="1133.2" y="299.6" width="339.2" height="279.8" fill="#ffffff"/>
<g stroke="#ebebe6" stroke-width="1.7">
<line x1="1200.92" y1="299.6" x2="1200.92" y2="579.4"/>
<line x1="1268.64" y1="299.6" x2="1268.64" y2="579.4"/>
<line x1="1336.36" y1="299.6" x2="1336.36" y2="579.4"/>
<line x1="1404.08" y1="299.6" x2="1404.08" y2="579.4"/>
<line x1="1471.80" y1="299.6" x2="1471.80" y2="579.4"/>
<line x1="1133.2" y1="539.45" x2="1472.4" y2="539.45"/>
<line x1="1133.2" y1="499.50" x2="1472.4" y2="499.50"/>
<line x1="1133.2" y1="459.55" x2="1472.4" y2="459.55"/>
<line x1="1133.2" y1="419.60" x2="1472.4" y2="419.60"/>
<line x1="1133.2" y1="379.65" x2="1472.4" y2="379.65"/>
<line x1="1133.2" y1="339.70" x2="1472.4" y2="339.70"/>
</g>
<clipPath id="cp3"><rect x="1133.2" y="299.6" width="339.2" height="279.8"/></clipPath>
<g clip-path="url(#cp3)">
<polygon points="1139.5,436.0 1143.0,480.0 1146.4,512.0 1149.9,526.0 1156.6,541.0 1166.8,551.0 1200.8,554.0 1234.5,555.0 1254.0,556.0 1268.4,538.8 1285.4,521.9 1302.4,526.9 1319.2,457.5 1336.2,398.0 1353.0,401.2 1370.0,413.8 1387.0,331.2 1404.2,360.5 1421.0,363.0 1438.0,313.2 1454.8,357.0 1471.8,363.8 1471.8,386.2 1454.8,396.2 1438.0,422.5 1421.0,406.2 1404.2,411.2 1387.0,420.0 1370.0,456.2 1353.0,547.5 1336.2,528.8 1319.2,551.2 1302.4,557.5 1285.4,558.5 1268.4,559.0 1254.0,561.0 1234.5,562.0 1200.8,562.0 1166.8,560.0 1156.6,551.0 1149.9,539.0 1146.4,527.0 1143.0,498.0 1139.5,462.0" fill="#c8323c" fill-opacity="0.21"/>
<polygon points="1138.0,508.0 1141.4,530.0 1150.0,551.0 1175.0,557.0 1226.0,558.0 1254.0,556.0 1268.4,538.8 1276.8,530.0 1285.4,492.5 1293.9,478.0 1302.4,458.8 1302.4,550.0 1293.9,540.0 1285.4,552.0 1276.8,556.0 1268.4,558.0 1254.0,561.0 1226.0,564.0 1175.0,563.0 1150.0,558.0 1141.4,541.0 1138.0,520.0" fill="#ef9538" fill-opacity="0.26"/>
</g>
<polyline points="1136.8,545.0 1137.8,551.0 1139.2,557.0 1141.4,560.0 1144.8,561.9 1148.2,563.0 1151.6,563.8 1155.0,564.4 1158.4,565.0 1161.8,565.5 1165.1,566.0 1168.5,566.4 1172.0,566.8 1175.2,567.0 1178.6,567.2 1182.0,567.5 1185.4,567.8 1188.8,568.0 1192.1,568.2 1195.5,568.5 1198.9,568.8 1200.8,569.0" fill="none" stroke="#3c7dbd" stroke-width="1.40" stroke-dasharray="6 3" stroke-linejoin="round"/>
<g fill="#3b7ec0" stroke="#6d6c67" stroke-width="1.20">
<circle cx="1136.8" cy="545.0" r="2.00"/>
<circle cx="1137.8" cy="551.0" r="2.00"/>
<circle cx="1139.2" cy="557.0" r="2.00"/>
<circle cx="1141.4" cy="560.0" r="2.00"/>
<circle cx="1144.8" cy="561.9" r="2.00"/>
<circle cx="1148.2" cy="563.0" r="2.00"/>
<circle cx="1151.6" cy="563.8" r="2.00"/>
<circle cx="1155.0" cy="564.4" r="2.00"/>
<circle cx="1158.4" cy="565.0" r="2.00"/>
<circle cx="1161.8" cy="565.5" r="2.00"/>
<circle cx="1165.1" cy="566.0" r="2.00"/>
<circle cx="1168.5" cy="566.4" r="2.00"/>
<circle cx="1172.0" cy="566.8" r="2.00"/>
<circle cx="1175.2" cy="567.0" r="2.00"/>
<circle cx="1178.6" cy="567.2" r="2.00"/>
<circle cx="1182.0" cy="567.5" r="2.00"/>
<circle cx="1185.4" cy="567.8" r="2.00"/>
<circle cx="1188.8" cy="568.0" r="2.00"/>
<circle cx="1192.1" cy="568.2" r="2.00"/>
<circle cx="1195.5" cy="568.5" r="2.00"/>
<circle cx="1198.9" cy="568.8" r="2.00"/>
<circle cx="1200.8" cy="569.0" r="2.00"/>
</g>
<polyline points="1136.8,541.9 1137.8,548.1 1139.2,554.4 1141.4,557.5 1144.8,559.4 1148.2,560.6 1151.6,561.2 1155.0,561.9 1158.4,562.5 1161.8,563.0 1165.1,563.5 1168.5,564.0 1172.0,564.4 1175.2,564.8 1178.6,565.0 1182.0,565.4 1185.4,565.8 1188.8,566.0 1192.1,566.4 1195.5,566.8 1198.9,567.0 1200.8,567.5" fill="none" stroke="#3c7dbd" stroke-width="1.40" stroke-linejoin="round"/>
<g fill="#3b7ec0" stroke="#6d6c67" stroke-width="1.40">
<circle cx="1136.8" cy="541.9" r="2.55"/>
<circle cx="1137.8" cy="548.1" r="2.55"/>
<circle cx="1139.2" cy="554.4" r="2.55"/>
<circle cx="1141.4" cy="557.5" r="2.55"/>
<circle cx="1144.8" cy="559.4" r="2.55"/>
<circle cx="1148.2" cy="560.6" r="2.55"/>
<circle cx="1151.6" cy="561.2" r="2.55"/>
<circle cx="1155.0" cy="561.9" r="2.55"/>
<circle cx="1158.4" cy="562.5" r="2.55"/>
<circle cx="1161.8" cy="563.0" r="2.55"/>
<circle cx="1165.1" cy="563.5" r="2.55"/>
<circle cx="1168.5" cy="564.0" r="2.55"/>
<circle cx="1172.0" cy="564.4" r="2.55"/>
<circle cx="1175.2" cy="564.8" r="2.55"/>
<circle cx="1178.6" cy="565.0" r="2.55"/>
<circle cx="1182.0" cy="565.4" r="2.55"/>
<circle cx="1185.4" cy="565.8" r="2.55"/>
<circle cx="1188.8" cy="566.0" r="2.55"/>
<circle cx="1192.1" cy="566.4" r="2.55"/>
<circle cx="1195.5" cy="566.8" r="2.55"/>
<circle cx="1198.9" cy="567.0" r="2.55"/>
<circle cx="1200.8" cy="567.5" r="2.55"/>
</g>
<polyline points="1138.0,519.0 1139.6,530.0 1141.4,540.0 1143.0,548.0 1144.8,552.0 1148.0,555.0 1149.9,557.5 1158.4,561.0 1166.8,562.5 1175.2,563.0 1183.6,563.2 1192.1,563.5 1200.8,563.8 1209.0,563.8 1217.6,564.5 1226.0,565.6 1234.5,566.0 1243.0,566.5 1251.5,566.2 1259.9,566.5 1268.4,567.5 1276.8,568.5 1285.4,567.5 1293.9,568.1 1302.4,568.4" fill="none" stroke="#ee8a2c" stroke-width="1.40" stroke-dasharray="6 3" stroke-linejoin="round"/>
<g fill="#f08c2c" stroke="#6d6c67" stroke-width="1.20">
<circle cx="1138.0" cy="519.0" r="2.00"/>
<circle cx="1139.6" cy="530.0" r="2.00"/>
<circle cx="1141.4" cy="540.0" r="2.00"/>
<circle cx="1143.0" cy="548.0" r="2.00"/>
<circle cx="1144.8" cy="552.0" r="2.00"/>
<circle cx="1148.0" cy="555.0" r="2.00"/>
<circle cx="1149.9" cy="557.5" r="2.00"/>
<circle cx="1158.4" cy="561.0" r="2.00"/>
<circle cx="1166.8" cy="562.5" r="2.00"/>
<circle cx="1175.2" cy="563.0" r="2.00"/>
<circle cx="1183.6" cy="563.2" r="2.00"/>
<circle cx="1192.1" cy="563.5" r="2.00"/>
<circle cx="1200.8" cy="563.8" r="2.00"/>
<circle cx="1209.0" cy="563.8" r="2.00"/>
<circle cx="1217.6" cy="564.5" r="2.00"/>
<circle cx="1226.0" cy="565.6" r="2.00"/>
<circle cx="1234.5" cy="566.0" r="2.00"/>
<circle cx="1243.0" cy="566.5" r="2.00"/>
<circle cx="1251.5" cy="566.2" r="2.00"/>
<circle cx="1259.9" cy="566.5" r="2.00"/>
<circle cx="1268.4" cy="567.5" r="2.00"/>
<circle cx="1276.8" cy="568.5" r="2.00"/>
<circle cx="1285.4" cy="567.5" r="2.00"/>
<circle cx="1293.9" cy="568.1" r="2.00"/>
<circle cx="1302.4" cy="568.4" r="2.00"/>
</g>
<polyline points="1138.0,514.6 1139.6,525.0 1141.4,535.4 1143.0,544.4 1144.8,548.1 1148.0,550.6 1149.9,554.6 1158.4,558.4 1166.8,560.0 1175.2,560.2 1183.6,560.0 1192.1,560.0 1200.8,560.0 1209.0,558.1 1217.6,558.8 1226.0,561.9 1234.5,559.4 1243.0,561.2 1251.5,559.0 1259.9,558.5 1268.4,552.2 1276.8,544.4 1285.4,517.1 1293.9,501.9 1302.4,493.4" fill="none" stroke="#ee8a2c" stroke-width="1.40" stroke-linejoin="round"/>
<g fill="#f08c2c" stroke="#6d6c67" stroke-width="1.40">
<circle cx="1138.0" cy="514.6" r="2.55"/>
<circle cx="1139.6" cy="525.0" r="2.55"/>
<circle cx="1141.4" cy="535.4" r="2.55"/>
<circle cx="1143.0" cy="544.4" r="2.55"/>
<circle cx="1144.8" cy="548.1" r="2.55"/>
<circle cx="1148.0" cy="550.6" r="2.55"/>
<circle cx="1149.9" cy="554.6" r="2.55"/>
<circle cx="1158.4" cy="558.4" r="2.55"/>
<circle cx="1166.8" cy="560.0" r="2.55"/>
<circle cx="1175.2" cy="560.2" r="2.55"/>
<circle cx="1183.6" cy="560.0" r="2.55"/>
<circle cx="1192.1" cy="560.0" r="2.55"/>
<circle cx="1200.8" cy="560.0" r="2.55"/>
<circle cx="1209.0" cy="558.1" r="2.55"/>
<circle cx="1217.6" cy="558.8" r="2.55"/>
<circle cx="1226.0" cy="561.9" r="2.55"/>
<circle cx="1234.5" cy="559.4" r="2.55"/>
<circle cx="1243.0" cy="561.2" r="2.55"/>
<circle cx="1251.5" cy="559.0" r="2.55"/>
<circle cx="1259.9" cy="558.5" r="2.55"/>
<circle cx="1268.4" cy="552.2" r="2.55"/>
<circle cx="1276.8" cy="544.4" r="2.55"/>
<circle cx="1285.4" cy="517.1" r="2.55"/>
<circle cx="1293.9" cy="501.9" r="2.55"/>
<circle cx="1302.4" cy="493.4" r="2.55"/>
</g>
<polyline points="1139.5,444.0 1143.0,495.0 1146.4,522.5 1149.9,536.2 1153.2,542.5 1156.6,550.0 1160.0,554.0 1163.4,555.0 1166.8,558.8 1183.6,560.5 1200.8,562.0 1217.6,563.0 1234.5,563.0 1251.5,563.5 1268.4,564.2 1285.4,564.5 1302.4,564.5 1319.2,565.0 1336.2,565.8 1353.0,567.0 1370.0,566.8 1387.0,566.2 1404.2,567.5 1421.0,568.0 1438.0,568.2 1454.8,568.5 1471.8,568.0" fill="none" stroke="#c8373a" stroke-width="1.40" stroke-dasharray="8 4" stroke-linejoin="round"/>
<g fill="#d0312f" stroke="#6d6c67" stroke-width="1.20">
<circle cx="1139.5" cy="444.0" r="2.00"/>
<circle cx="1143.0" cy="495.0" r="2.00"/>
<circle cx="1146.4" cy="522.5" r="2.00"/>
<circle cx="1149.9" cy="536.2" r="2.00"/>
<circle cx="1153.2" cy="542.5" r="2.00"/>
<circle cx="1156.6" cy="550.0" r="2.00"/>
<circle cx="1160.0" cy="554.0" r="2.00"/>
<circle cx="1163.4" cy="555.0" r="2.00"/>
<circle cx="1166.8" cy="558.8" r="2.00"/>
<circle cx="1183.6" cy="560.5" r="2.00"/>
<circle cx="1200.8" cy="562.0" r="2.00"/>
<circle cx="1217.6" cy="563.0" r="2.00"/>
<circle cx="1234.5" cy="563.0" r="2.00"/>
<circle cx="1251.5" cy="563.5" r="2.00"/>
<circle cx="1268.4" cy="564.2" r="2.00"/>
<circle cx="1285.4" cy="564.5" r="2.00"/>
<circle cx="1302.4" cy="564.5" r="2.00"/>
<circle cx="1319.2" cy="565.0" r="2.00"/>
<circle cx="1336.2" cy="565.8" r="2.00"/>
<circle cx="1353.0" cy="567.0" r="2.00"/>
<circle cx="1370.0" cy="566.8" r="2.00"/>
<circle cx="1387.0" cy="566.2" r="2.00"/>
<circle cx="1404.2" cy="567.5" r="2.00"/>
<circle cx="1421.0" cy="568.0" r="2.00"/>
<circle cx="1438.0" cy="568.2" r="2.00"/>
<circle cx="1454.8" cy="568.5" r="2.00"/>
<circle cx="1471.8" cy="568.0" r="2.00"/>
</g>
<polyline points="1139.5,456.2 1143.0,491.9 1146.4,520.6 1149.9,533.1 1153.2,540.2 1156.6,546.6 1160.0,552.0 1163.4,551.0 1166.8,556.2 1183.6,556.0 1200.8,557.8 1217.6,557.2 1234.5,558.1 1251.5,559.4 1268.4,553.1 1285.4,545.2 1302.4,542.1 1319.2,523.1 1336.2,482.4 1353.0,476.4 1370.0,428.9 1387.0,385.2 1404.2,381.5 1421.0,377.5 1438.0,374.0 1454.8,377.2 1471.8,377.2" fill="none" stroke="#c8373a" stroke-width="1.40" stroke-linejoin="round"/>
<g fill="#d0312f" stroke="#6d6c67" stroke-width="1.40">
<circle cx="1139.5" cy="456.2" r="2.55"/>
<circle cx="1143.0" cy="491.9" r="2.55"/>
<circle cx="1146.4" cy="520.6" r="2.55"/>
<circle cx="1149.9" cy="533.1" r="2.55"/>
<circle cx="1153.2" cy="540.2" r="2.55"/>
<circle cx="1156.6" cy="546.6" r="2.55"/>
<circle cx="1160.0" cy="552.0" r="2.55"/>
<circle cx="1163.4" cy="551.0" r="2.55"/>
<circle cx="1166.8" cy="556.2" r="2.55"/>
<circle cx="1183.6" cy="556.0" r="2.55"/>
<circle cx="1200.8" cy="557.8" r="2.55"/>
<circle cx="1217.6" cy="557.2" r="2.55"/>
<circle cx="1234.5" cy="558.1" r="2.55"/>
<circle cx="1251.5" cy="559.4" r="2.55"/>
<circle cx="1268.4" cy="553.1" r="2.55"/>
<circle cx="1285.4" cy="545.2" r="2.55"/>
<circle cx="1302.4" cy="542.1" r="2.55"/>
<circle cx="1319.2" cy="523.1" r="2.55"/>
<circle cx="1336.2" cy="482.4" r="2.55"/>
<circle cx="1353.0" cy="476.4" r="2.55"/>
<circle cx="1370.0" cy="428.9" r="2.55"/>
<circle cx="1387.0" cy="385.2" r="2.55"/>
<circle cx="1404.2" cy="381.5" r="2.55"/>
<circle cx="1421.0" cy="377.5" r="2.55"/>
<circle cx="1438.0" cy="374.0" r="2.55"/>
<circle cx="1454.8" cy="377.2" r="2.55"/>
<circle cx="1471.8" cy="377.2" r="2.55"/>
</g>
<g stroke="#6e6d68" stroke-width="1.9" stroke-linecap="butt">
<line x1="1133.20" y1="292.3" x2="1133.20" y2="593.7"/>
<line x1="1118.7" y1="579.40" x2="1482.4" y2="579.40"/>
<line x1="1200.92" y1="579.4" x2="1200.92" y2="593.7"/>
<line x1="1268.64" y1="579.4" x2="1268.64" y2="593.7"/>
<line x1="1336.36" y1="579.4" x2="1336.36" y2="593.7"/>
<line x1="1404.08" y1="579.4" x2="1404.08" y2="593.7"/>
<line x1="1471.80" y1="579.4" x2="1471.80" y2="593.7"/>
<line x1="1118.7" y1="539.45" x2="1133.2" y2="539.45"/>
<line x1="1118.7" y1="499.50" x2="1133.2" y2="499.50"/>
<line x1="1118.7" y1="459.55" x2="1133.2" y2="459.55"/>
<line x1="1118.7" y1="419.60" x2="1133.2" y2="419.60"/>
<line x1="1118.7" y1="379.65" x2="1133.2" y2="379.65"/>
<line x1="1118.7" y1="339.70" x2="1133.2" y2="339.70"/>
<line x1="1118.7" y1="299.75" x2="1133.2" y2="299.75"/>
</g>
<text x="1128.3" y="619.4" font-size="15.70" text-anchor="start" font-weight="normal" fill="#6f6e69" textLength="9.8" lengthAdjust="spacingAndGlyphs" stroke="#6f6e69" stroke-width="0.55">0</text>
<text x="1187.6" y="619.4" font-size="15.70" text-anchor="start" font-weight="normal" fill="#6f6e69" textLength="26.7" lengthAdjust="spacingAndGlyphs" stroke="#6f6e69" stroke-width="0.55">100</text>
<text x="1254.0" y="619.4" font-size="15.70" text-anchor="start" font-weight="normal" fill="#6f6e69" textLength="29.2" lengthAdjust="spacingAndGlyphs" stroke="#6f6e69" stroke-width="0.55">200</text>
<text x="1321.7" y="619.4" font-size="15.70" text-anchor="start" font-weight="normal" fill="#6f6e69" textLength="29.2" lengthAdjust="spacingAndGlyphs" stroke="#6f6e69" stroke-width="0.55">300</text>
<text x="1389.5" y="619.4" font-size="15.70" text-anchor="start" font-weight="normal" fill="#6f6e69" textLength="29.2" lengthAdjust="spacingAndGlyphs" stroke="#6f6e69" stroke-width="0.55">400</text>
<text x="1457.2" y="619.4" font-size="15.70" text-anchor="start" font-weight="normal" fill="#6f6e69" textLength="29.2" lengthAdjust="spacingAndGlyphs" stroke="#6f6e69" stroke-width="0.55">500</text>
<text x="1104.0" y="586.6" font-size="15.70" text-anchor="start" font-weight="normal" fill="#6f6e69" textLength="9.8" lengthAdjust="spacingAndGlyphs" stroke="#6f6e69" stroke-width="0.55">0</text>
<text x="1087.1" y="546.8" font-size="15.70" text-anchor="start" font-weight="normal" fill="#6f6e69" textLength="26.7" lengthAdjust="spacingAndGlyphs" stroke="#6f6e69" stroke-width="0.55">100</text>
<text x="1084.5" y="508.1" font-size="15.70" text-anchor="start" font-weight="normal" fill="#6f6e69" textLength="29.2" lengthAdjust="spacingAndGlyphs" stroke="#6f6e69" stroke-width="0.55">200</text>
<text x="1084.5" y="468.6" font-size="15.70" text-anchor="start" font-weight="normal" fill="#6f6e69" textLength="29.2" lengthAdjust="spacingAndGlyphs" stroke="#6f6e69" stroke-width="0.55">300</text>
<text x="1084.5" y="428.8" font-size="15.70" text-anchor="start" font-weight="normal" fill="#6f6e69" textLength="29.2" lengthAdjust="spacingAndGlyphs" stroke="#6f6e69" stroke-width="0.55">400</text>
<text x="1084.5" y="389.4" font-size="15.70" text-anchor="start" font-weight="normal" fill="#6f6e69" textLength="29.2" lengthAdjust="spacingAndGlyphs" stroke="#6f6e69" stroke-width="0.55">500</text>
<text x="1084.5" y="350.1" font-size="15.70" text-anchor="start" font-weight="normal" fill="#6f6e69" textLength="29.2" lengthAdjust="spacingAndGlyphs" stroke="#6f6e69" stroke-width="0.55">600</text>
<text x="1084.5" y="311.3" font-size="15.70" text-anchor="start" font-weight="normal" fill="#6f6e69" textLength="29.2" lengthAdjust="spacingAndGlyphs" stroke="#6f6e69" stroke-width="0.55">700</text>
<rect x="642.6" y="693.2" width="347.2" height="125" rx="7.5" ry="7.5" fill="#ffffff" stroke="#6e6d68" stroke-width="2"/>
<line x1="669.5" y1="730.6" x2="685.5" y2="730.6" stroke="#6e6d68" stroke-width="2"/>
<line x1="672" y1="758" x2="685.5" y2="758" stroke="#6e6d68" stroke-width="2" stroke-dasharray="5 3.5"/>
<text x="698.6" y="734.6" font-size="16.00" text-anchor="start" font-weight="normal" fill="#6f6e69" textLength="75.2" lengthAdjust="spacingAndGlyphs" stroke="#6f6e69" stroke-width="0.70">Triggered</text>
<text x="698.6" y="762.4" font-size="16.00" text-anchor="start" font-weight="normal" fill="#6f6e69" textLength="60.2" lengthAdjust="spacingAndGlyphs" stroke="#6f6e69" stroke-width="0.70">Control</text>
<circle cx="802" cy="728.8" r="6.7" fill="#3b7ec0" stroke="#6d6c67" stroke-width="1.6"/>
<circle cx="802" cy="756.3" r="6.7" fill="#f08c2c" stroke="#6d6c67" stroke-width="1.6"/>
<circle cx="802" cy="783.8" r="6.7" fill="#d0312f" stroke="#6d6c67" stroke-width="1.6"/>
<text x="823.6" y="735.0" font-size="16.00" text-anchor="start" font-weight="normal" fill="#6f6e69" textLength="25.4" lengthAdjust="spacingAndGlyphs" stroke="#6f6e69" stroke-width="0.70">100</text>
<text x="854.6" y="735.0" font-size="16.00" text-anchor="start" font-weight="normal" fill="#6f6e69" textLength="61.0" lengthAdjust="spacingAndGlyphs" stroke="#6f6e69" stroke-width="0.70">poisons</text>
<text x="921.0" y="735.0" font-size="16.00" text-anchor="start" font-weight="normal" fill="#6f6e69" textLength="41.2" lengthAdjust="spacingAndGlyphs" stroke="#6f6e69" stroke-width="0.70">(n=3)</text>
<text x="823.6" y="762.5" font-size="16.00" text-anchor="start" font-weight="normal" fill="#6f6e69" textLength="141.4" lengthAdjust="spacingAndGlyphs" stroke="#6f6e69" stroke-width="0.70">250 poisons (n=3)</text>
<text x="823.6" y="790.0" font-size="16.00" text-anchor="start" font-weight="normal" fill="#6f6e69" textLength="141.4" lengthAdjust="spacingAndGlyphs" stroke="#6f6e69" stroke-width="0.70">500 poisons (n=3)</text>
</svg>
</body></html>
